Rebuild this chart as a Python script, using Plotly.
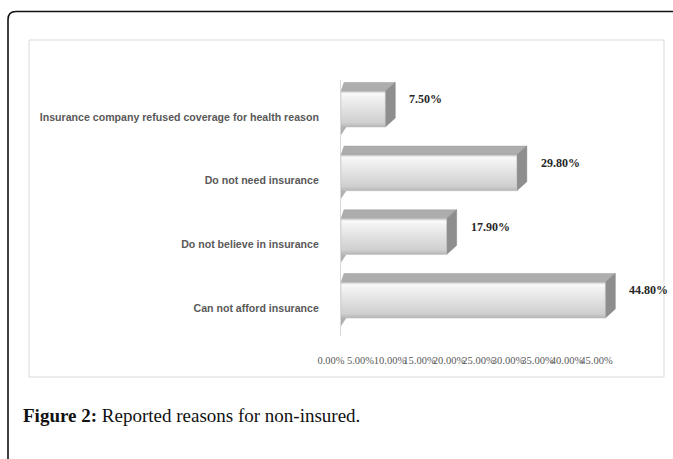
import plotly.graph_objects as go

# ---------------- data ----------------
categories = [
    "Can not afford insurance",
    "Do not believe in insurance",
    "Do not need insurance",
    "Insurance company refused coverage for health reason",
]
values = [44.80, 17.90, 29.80, 7.50]
value_labels = ["44.80%", "17.90%", "29.80%", "7.50%"]
tick_values = [0, 5, 10, 15, 20, 25, 30, 35, 40, 45]
tick_labels = ["0.00%", "5.00%", "10.00%", "15.00%", "20.00%", "25.00%",
               "30.00%", "35.00%", "40.00%", "45.00%"]

# ---------------- layout geometry (pixels) ----------------
W, H = 673, 459
PL, PR, PT, PB = 341, 620, 80, 336          # plot area in pixels
X_MAX = 47.29
Y_MIN, Y_MAX = -0.44, 3.58

def px_x(p):   # pixel -> paper x
    return (p - PL) / (PR - PL)

def px_y(p):   # pixel -> paper y
    return (PB - p) / (PB - PT)

px_per_x = (PR - PL) / X_MAX
px_per_y = (PB - PT) / (Y_MAX - Y_MIN)
DX = 10 / px_per_x      # 3-D depth in data units
DY = 9 / px_per_y
FRONT_SHIFT = 7.7 / px_per_y
HALF = 17.8 / px_per_y

fig = go.Figure()

for i, (cat, v) in enumerate(zip(categories, values)):
    y0 = i + FRONT_SHIFT - HALF
    y1 = i + FRONT_SHIFT + HALF
    # top face
    fig.add_trace(go.Scatter(
        x=[0, v, v + DX, DX * 0.3, 0], y=[y1, y1, y1 + DY, y1 + DY, y1],
        mode="lines", fill="toself", fillcolor="#adadad",
        line=dict(color="#9e9e9e", width=0.5), hoverinfo="skip", showlegend=False))
    # side face
    fig.add_trace(go.Scatter(
        x=[v, v + DX, v + DX, v, v], y=[y0, y0 + DY, y1 + DY, y1, y0],
        mode="lines", fill="toself", fillcolor="#8e8e8e",
        line=dict(color="#808080", width=0.5), hoverinfo="skip", showlegend=False))
    # front face with vertical gradient
    fig.add_trace(go.Scatter(
        x=[0, v, v, 0, 0], y=[y0, y0, y1, y1, y0],
        mode="lines", fill="toself",
        fillgradient=dict(type="vertical",
                          colorscale=[[0, "#b5b5b5"], [0.12, "#cfcfcf"],
                                      [0.55, "#e4e4e4"], [0.85, "#f3f3f3"],
                                      [0.93, "#fbfbfb"], [1, "#d0d0d0"]]),
        line=dict(color="#bdbdbd", width=0.5), hoverinfo="skip", showlegend=False))
    # small shadow at lower left
    fig.add_trace(go.Scatter(
        x=[0, 0.9, 0, 0], y=[y0, y0, y0 - DY * 0.9, y0],
        mode="lines", fill="toself", fillcolor="#b0b0b0",
        line=dict(color="#b0b0b0", width=0), hoverinfo="skip", showlegend=False))

# value labels
for i, (v, lab) in enumerate(zip(values, value_labels)):
    fig.add_annotation(x=v, y=i + FRONT_SHIFT, xref="x", yref="y",
                       text="<b>" + lab + "</b>", showarrow=False,
                       xanchor="left", yanchor="middle", xshift=22, yshift=10,
                       font=dict(family="Liberation Serif", size=12, color="#262626"))

# outer frame (rounded top-left corner) and inner chart box
r = 8
frame_path = (f"M {px_x(W + 5)},{px_y(11.5)} L {px_x(8 + r)},{px_y(11.5)} "
              f"Q {px_x(8)},{px_y(11.5)} {px_x(8)},{px_y(11.5 + r)} "
              f"L {px_x(8)},{px_y(H + 5)}")
fig.add_shape(type="path", path=frame_path, xref="paper", yref="paper",
              line=dict(color="#111111", width=1.6), layer="above")
fig.add_shape(type="rect", xref="paper", yref="paper",
              x0=px_x(29), x1=px_x(664), y0=px_y(40), y1=px_y(377),
              line=dict(color="#d9d9d9", width=1), layer="below")

# caption
fig.add_annotation(xref="paper", yref="paper", x=px_x(21), y=px_y(415),
                   xanchor="left", yanchor="middle", showarrow=False,
                   text="<b>Figure 2:</b> Reported reasons for non-insured.",
                   font=dict(family="Liberation Serif", size=19, color="#111111"))

fig.update_layout(
    width=W, height=H,
    margin=dict(l=PL, r=W - PR, t=PT, b=H - PB, pad=0),
    paper_bgcolor="white", plot_bgcolor="white",
    showlegend=False,
    xaxis=dict(range=[0, X_MAX], tickvals=tick_values, ticktext=tick_labels,
               showgrid=False, zeroline=False, showline=False, ticks="",
               tickangle=0, ticklabelstandoff=16, ticklabelshift=-10,
               tickfont=dict(family="Liberation Serif", size=10.5, color="#595959"),
               fixedrange=True),
    yaxis=dict(range=[Y_MIN, Y_MAX], tickvals=list(range(len(categories))),
               ticktext=categories, showgrid=False, zeroline=False,
               showline=True, linecolor="#d9d9d9", linewidth=1, ticks="",
               ticklabelstandoff=19,
               tickfont=dict(family="Liberation Sans", size=10.6, color="#595959",
                             weight="bold"),
               fixedrange=True),
)

fig.write_html("out.html")
